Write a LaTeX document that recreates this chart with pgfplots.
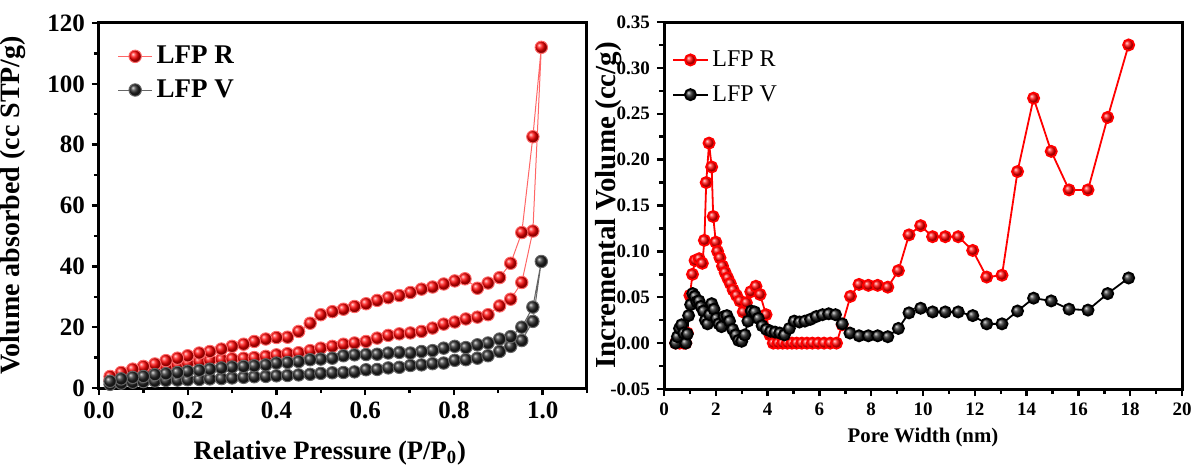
\documentclass[border=0pt]{standalone}
\usepackage{fontspec}
\setmainfont{Liberation Serif}
\usepackage{pgfplots}
\usepackage{pgfplotstable}
\pgfplotsset{compat=1.18}

\pgfplotstableread{
x y
0.025 2.6
0.050 3.8
0.076 4.8
0.100 5.6
0.126 6.3
0.151 7.0
0.177 7.6
0.200 8.2
0.226 8.7
0.250 9.2
0.276 9.4
0.300 9.6
0.326 9.8
0.350 10.0
0.376 10.4
0.400 10.9
0.425 11.3
0.450 11.6
0.476 12.3
0.500 13.1
0.526 13.7
0.551 14.4
0.576 14.8
0.602 15.3
0.627 16.4
0.652 17.3
0.677 17.8
0.702 18.1
0.727 18.6
0.752 19.7
0.777 21.0
0.802 21.7
0.827 22.7
0.853 23.3
0.877 24.1
0.903 27.0
0.928 29.2
0.953 34.7
0.978 51.6
0.997 112.0
0.978 82.6
0.953 51.1
0.928 41.0
0.903 36.3
0.877 34.5
0.853 32.8
0.825 35.9
0.802 35.2
0.777 34.2
0.752 33.2
0.727 32.5
0.702 31.4
0.677 30.4
0.652 29.7
0.627 28.8
0.602 27.7
0.576 26.8
0.551 25.9
0.526 25.1
0.500 24.1
0.476 21.3
0.450 18.6
0.425 16.7
0.400 16.6
0.376 16.1
0.350 15.3
0.326 14.4
0.300 13.7
0.276 12.8
0.250 12.0
0.226 11.5
0.200 10.6
0.177 9.8
0.151 9.0
0.126 7.9
0.100 7.1
0.076 6.2
0.050 5.1
0.025 3.8
}\isoR

\pgfplotstableread{
x y
0.025 1.2
0.050 1.6
0.076 1.9
0.100 2.1
0.126 2.3
0.151 2.5
0.177 2.6
0.200 2.7
0.226 2.8
0.250 3.0
0.276 3.1
0.300 3.3
0.326 3.5
0.350 3.7
0.376 3.8
0.400 4.0
0.425 4.1
0.450 4.3
0.476 4.5
0.500 4.8
0.526 5.0
0.551 5.1
0.576 5.3
0.602 6.0
0.627 6.1
0.652 6.6
0.677 6.8
0.702 7.4
0.727 7.6
0.752 8.0
0.777 8.2
0.802 9.1
0.827 9.3
0.853 9.8
0.877 10.6
0.903 12.0
0.928 13.7
0.953 15.6
0.978 21.9
0.997 41.6
0.978 26.6
0.953 20.0
0.928 16.9
0.903 16.1
0.877 14.8
0.853 14.2
0.827 13.3
0.802 13.7
0.777 13.1
0.752 12.3
0.727 12.0
0.702 11.5
0.677 11.7
0.652 11.5
0.627 11.1
0.602 11.0
0.576 10.9
0.551 10.6
0.526 9.8
0.500 9.5
0.476 9.3
0.450 8.7
0.425 8.4
0.400 8.2
0.376 7.6
0.350 7.3
0.326 7.1
0.300 6.9
0.276 6.6
0.250 6.2
0.226 5.8
0.200 5.5
0.177 5.1
0.151 4.7
0.126 4.4
0.100 3.8
0.076 3.5
0.050 3.0
0.025 2.2
}\isoV

\pgfplotstableread{
x y
0.45 0
0.60 0
0.76 0
0.84 0
0.90 0.011
1.00 0.052
1.10 0.075
1.20 0.090
1.36 0.092
1.48 0.087
1.56 0.112
1.63 0.175
1.74 0.218
1.84 0.192
1.90 0.138
2.00 0.110
2.07 0.100
2.16 0.093
2.26 0.084
2.36 0.077
2.46 0.071
2.56 0.065
2.67 0.058
2.80 0.052
2.93 0.046
3.06 0.034
3.18 0.044
3.35 0.056
3.55 0.062
3.71 0.053
3.94 0.031
4.09 0.009
4.22 0
4.40 0
4.58 0
4.76 0
4.94 0
5.12 0
5.32 0
5.52 0
5.73 0
5.95 0
6.18 0
6.42 0
6.66 0
6.88 0.020
7.20 0.051
7.53 0.064
7.89 0.063
8.25 0.063
8.64 0.061
9.05 0.079
9.46 0.118
9.91 0.128
10.37 0.116
10.86 0.116
11.36 0.116
11.92 0.101
12.46 0.072
13.05 0.074
13.65 0.187
14.27 0.267
14.95 0.209
15.64 0.167
16.37 0.167
17.13 0.246
17.94 0.325
}\poreR

\pgfplotstableread{
x y
0.45 0
0.52 0.007
0.60 0.016
0.68 0.020
0.76 0.011
0.84 0.0
0.90 0.010
0.95 0.030
1.03 0.042
1.11 0.054
1.19 0.051
1.27 0.045
1.35 0.046
1.43 0.040
1.52 0.035
1.60 0.025
1.68 0.021
1.76 0.031
1.84 0.043
1.93 0.037
2.02 0.027
2.12 0.021
2.22 0.018
2.32 0.029
2.43 0.030
2.53 0.024
2.65 0.015
2.77 0.009
2.88 0.003
3.00 0.002
3.12 0.009
3.24 0.024
3.37 0.035
3.50 0.034
3.64 0.027
3.79 0.019
3.95 0.015
4.12 0.013
4.29 0.012
4.47 0.011
4.65 0.009
4.84 0.016
5.03 0.024
5.23 0.023
5.44 0.024
5.66 0.026
5.88 0.029
6.12 0.031
6.36 0.032
6.62 0.031
6.88 0.021
7.18 0.011
7.53 0.008
7.89 0.008
8.25 0.008
8.64 0.007
9.05 0.016
9.46 0.033
9.91 0.038
10.37 0.034
10.86 0.034
11.36 0.034
11.92 0.030
12.46 0.021
13.05 0.021
13.65 0.035
14.27 0.049
14.95 0.046
15.64 0.037
16.37 0.036
17.13 0.054
17.94 0.071
}\poreV

\begin{document}
\begin{tikzpicture}
\path[use as bounding box] (0,0) rectangle (595.5pt,236pt);
\pgfplotsset{
  common/.style={
    scale only axis,
    anchor=south west,
    axis line style={line width=1.5pt},
    tick align=outside,
    xtick pos=left, ytick pos=left,
    major tick length=3.5pt, minor tick length=2.5pt,
    every tick/.style={black, line width=1.2pt},
    scaled ticks=false,
    legend cell align=left,
  }
}
\begin{axis}[common,
  at={(49.5pt,42pt)}, width=244pt, height=182.5pt,
  xmin=0, xmax=1.1, ymin=0, ymax=120,
  xtick={0,0.2,0.4,0.6,0.8,1.0}, xticklabels={0.0,0.2,0.4,0.6,0.8,1.0},
  minor xtick={0.1,0.3,0.5,0.7,0.9,1.1},
  ytick={0,20,40,60,80,100,120}, yticklabels={0,20,40,60,80,100,120},
  minor ytick={10,30,50,70,90,110},
  ticklabel style={font=\bfseries\fontsize{12.5}{13}\selectfont},
  xlabel={Relative Pressure (P/P\textsubscript{0})},
  ylabel={Volume absorbed (cc STP/g)},
  xlabel style={font=\bfseries\fontsize{13.3}{14}\selectfont,
    at={(axis description cs:0.473,-0.178)}, anchor=center},
  ylabel style={font=\bfseries\fontsize{14}{15}\selectfont,
    at={(axis description cs:-0.176,0.5)}, anchor=center},
  legend style={at={(axis description cs:0.025,0.96)}, anchor=north west,
    draw=none, fill=none, font=\bfseries\fontsize{13.5}{14}\selectfont,
    row sep=2.5pt},
]
\addplot[red!60, line width=0.5pt, mark=ball, mark size=3.1pt,
  mark options={ball color=red}] table[x=x,y=y] {\isoR};
\addlegendentry{LFP R}
\addplot[black!60, line width=0.5pt, mark=ball, mark size=3.1pt,
  mark options={ball color=black!85}] table[x=x,y=y] {\isoV};
\addlegendentry{LFP V}
\end{axis}

\begin{axis}[common,
  at={(332pt,41.5pt)}, width=259pt, height=183.5pt,
  xmin=0, xmax=20, ymin=-0.05, ymax=0.35,
  xtick={0,2,4,6,8,10,12,14,16,18,20},
  xticklabels={0,2,4,6,8,10,12,14,16,18,20},
  minor xtick={1,3,5,7,9,11,13,15,17,19},
  ytick={-0.05,0,0.05,0.1,0.15,0.2,0.25,0.3,0.35},
  yticklabels={-0.05,0.00,0.05,0.10,0.15,0.20,0.25,0.30,0.35},
  minor ytick={-0.025,0.025,0.075,0.125,0.175,0.225,0.275,0.325},
  ticklabel style={font=\bfseries\fontsize{9.5}{10}\selectfont},
  xlabel={Pore Width (nm)},
  ylabel={Incremental Volume (cc/g)},
  xlabel style={font=\bfseries\fontsize{10.4}{11}\selectfont,
    at={(axis description cs:0.5,-0.133)}, anchor=center},
  ylabel style={font=\bfseries\fontsize{14.5}{15}\selectfont,
    at={(axis description cs:-0.106,0.5)}, anchor=center},
  legend style={at={(axis description cs:0.004,0.945)}, anchor=north west,
    draw=none, fill=none, font=\fontsize{12}{12.5}\selectfont,
    row sep=4pt},
]
\addplot[red, line width=0.9pt, mark=ball, mark size=2.8pt,
  mark options={ball color=red}] table[x=x,y=y] {\poreR};
\addlegendentry{LFP R}
\addplot[black, line width=0.9pt, mark=ball, mark size=2.8pt,
  mark options={ball color=black!85}] table[x=x,y=y] {\poreV};
\addlegendentry{LFP V}
\end{axis}
\end{tikzpicture}
\end{document}
